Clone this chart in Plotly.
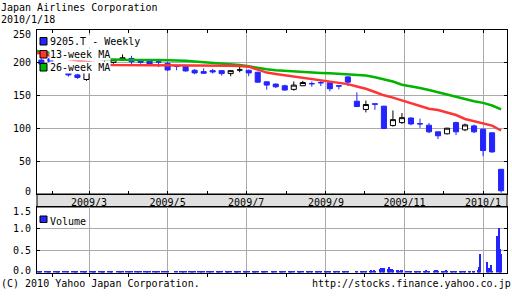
import plotly.graph_objects as go
import pandas as pd

# ---------------- data ----------------
title_text = "Japan Airlines Corporation"
date_text = "2010/1/18"
copyright_text = "(C) 2010 Yahoo Japan Corporation."
url_text = "http://stocks.finance.yahoo.co.jp"
legend_labels = ["9205.T - Weekly", "13-week MA", "26-week MA"]
volume_label = "Volume"

first_week = "2009-01-23"   # weekly candles, plotted at week end (Fri)
opens = [203.5, 205.5, 196, 185, 181, 174, 188, 196, 200, 203.5,
         206, 204, 203, 201, 198.5, 194.5, 194, 188, 186, 187.5,
         187.5, 183, 188.5, 188, 185, 170.5, 167, 164.5, 159, 164.5,
         168, 169.5, 169, 164.5, 178, 141, 128.5, 137, 133.5, 104,
         108.5, 115.5, 107, 104.5, 94.5, 91.5, 108.5, 97.5, 103.5, 98.5,
         93, 37.5]
highs = [205.5, 210.5, 198, 188.5, 183, 190, 199, 203, 205, 212,
         210, 205, 204, 205, 201, 196, 195, 190, 191, 190,
         188, 188, 194, 189, 186, 171, 168, 166, 171, 172,
         171, 173, 170, 164.5, 179, 154.5, 142, 137, 134, 127,
         123, 116.5, 114.5, 108, 94.5, 100.5, 110, 107, 105.5, 99,
         93.5, 38]
lows = [196.5, 198.5, 189, 178.5, 175, 172, 186, 194, 198, 202.5,
        195, 198, 195, 193, 187, 188, 186, 182, 183, 183,
        180, 179, 185, 179, 169, 158.5, 161, 157, 157, 164,
        163, 164, 156, 159, 164, 132, 124, 128, 98.5, 102.5,
        106.5, 104.5, 100.5, 92.5, 83.5, 90.5, 89.5, 95.5, 92.5, 57.5,
        62.5, 2]
closes = [197.5, 201.5, 190.5, 181, 177, 189, 196, 200, 204, 207,
          201, 200, 197, 200.5, 188.5, 194, 187, 184, 183.5, 185.5,
          183, 187.5, 188.5, 184, 170, 165.5, 163, 158, 165.5, 169.5,
          167.5, 169, 160, 164, 170, 133, 136, 136.5, 99.5, 113,
          116, 106.5, 106.5, 94.5, 88.5, 100, 94.5, 105, 94.5, 66,
          64, 5]

ma_first = "2009-01-19"     # MA lines start at the left edge
ma13 = [214.5, 213.5, 210, 207, 205, 203, 201, 198.5, 196.5, 196, 196,
        196, 196, 196, 196, 196, 196, 196, 196, 196, 195.5,
        195.5, 195, 194.5, 193.5, 189, 184.5, 182.5, 180.5, 178, 176.5,
        174, 172.5, 170.5, 169, 167, 163.5, 160, 155, 150, 146.5,
        142.5, 138.5, 134, 129.5, 127.5, 123.5, 120, 114, 111, 108,
        104, 96.5]
ma26 = [217.5, 216.5, 214.5, 211.5, 209.5, 207.5, 206.5, 205.5, 205.5, 204.5, 204,
        203.5, 203.5, 203.5, 203.5, 203.5, 203, 202.5, 201.5, 200.5, 199,
        198, 197, 196, 194, 191.5, 189.5, 188, 187, 186, 185.5,
        185, 184, 183.5, 182.5, 182, 181, 180, 177.5, 174.5, 171,
        166, 164, 161, 158, 154.5, 151, 147.5, 144.5, 141, 138.5,
        134.5, 128.5]

# daily volume (units as on the chart axis)
vol_first, vol_last = "2009-01-19", "2010-01-15"
market_holidays = ["2009-02-11", "2009-03-20", "2009-04-29", "2009-05-04", "2009-05-05",
                   "2009-05-06", "2009-07-20", "2009-09-21", "2009-09-22", "2009-09-23",
                   "2009-10-12", "2009-11-03", "2009-11-23", "2009-12-23", "2009-12-31",
                   "2010-01-01", "2010-01-11"]
vol_jan09 = [0.02, 0.03, 0.02, 0.02, 0.02, 0.03, 0.02, 0.02, 0.03, 0.02]
vol_feb09 = [0.02, 0.02, 0.03, 0.02, 0.02, 0.02, 0.02, 0.02, 0.02, 0.02,
             0.03, 0.02, 0.02, 0.02, 0.02, 0.03, 0.02, 0.02, 0.02]
vol_mar09 = [0.03, 0.02, 0.02, 0.02, 0.02, 0.02, 0.02, 0.03, 0.02, 0.02,
             0.02, 0.02, 0.02, 0.02, 0.02, 0.02, 0.03, 0.02, 0.02, 0.02, 0.02]
vol_apr09 = [0.02, 0.02, 0.02, 0.03, 0.02, 0.02, 0.02, 0.02, 0.02, 0.02,
             0.02, 0.03, 0.02, 0.02, 0.02, 0.02, 0.02, 0.02, 0.02, 0.02, 0.02]
vol_may09 = [0.02, 0.02, 0.02, 0.02, 0.02, 0.03, 0.02, 0.02, 0.02, 0.02,
             0.02, 0.02, 0.02, 0.03, 0.02, 0.02, 0.02, 0.02]
vol_jun09 = [0.02, 0.02, 0.02, 0.03, 0.02, 0.02, 0.02, 0.02, 0.02, 0.02, 0.03,
             0.02, 0.02, 0.02, 0.02, 0.02, 0.02, 0.02, 0.03, 0.02, 0.02, 0.02]
vol_jul09 = [0.02, 0.02, 0.02, 0.02, 0.02, 0.02, 0.03, 0.02, 0.02, 0.02, 0.02,
             0.02, 0.02, 0.02, 0.02, 0.03, 0.02, 0.02, 0.02, 0.02, 0.02, 0.02]
vol_aug09 = [0.02, 0.02, 0.02, 0.02, 0.03, 0.02, 0.02, 0.02, 0.02, 0.02, 0.02,
             0.02, 0.02, 0.03, 0.02, 0.02, 0.02, 0.02, 0.02, 0.02, 0.02]
vol_sep09 = [0.02, 0.02, 0.02, 0.02, 0.02, 0.02, 0.02, 0.02, 0.02, 0.03,
             0.04, 0.04, 0.03, 0.03, 0.04, 0.04, 0.03, 0.02, 0.03]
vol_oct09 = [0.04, 0.04, 0.04, 0.05, 0.04, 0.05, 0.04, 0.08, 0.11, 0.10, 0.11,
             0.09, 0.13, 0.08, 0.07, 0.05, 0.06, 0.05, 0.04, 0.06, 0.05]
vol_nov09 = [0.03, 0.03, 0.02, 0.03, 0.03, 0.02, 0.03, 0.03, 0.02, 0.03,
             0.04, 0.06, 0.03, 0.03, 0.04, 0.06, 0.05, 0.03, 0.03]
vol_dec09 = [0.03, 0.04, 0.05, 0.04, 0.03, 0.04, 0.03, 0.03, 0.02, 0.03, 0.02,
             0.02, 0.03, 0.02, 0.02, 0.03, 0.03, 0.04, 0.05, 0.13, 0.42]
vol_jan10 = [0.23, 0.06, 0.10, 0.18, 0.03, 0.83, 1.03, 0.54, 0.43]

x_range = ["2009-01-19 14:00", "2010-01-19 14:00"]
x_tick_vals = ["2009-03-01", "2009-05-01", "2009-07-01", "2009-09-01", "2009-11-01", "2010-01-01"]
x_tick_text = ["2009/3", "2009/5", "2009/7", "2009/9", "2009/11", "2010/1"]
price_range = [0, 250]
price_ticks = [0, 50, 100, 150, 200, 250]
price_tick_text = ["0", "50", "100", "150", "200", "250"]
vol_range = [0, 1.5]
vol_ticks = [0, 0.5, 1.0, 1.5]
vol_tick_text = ["0.0", "0.5", "1.0", "1.5"]

# ---------------- styling ----------------
W, H = 512, 301
def px(x):
    return x / W
def py(y):
    return 1 - y / H

FONT = "DejaVu Sans Mono"
BLUE = "#2424ff"
RED = "#ff3535"
GREEN = "#00b400"
GRID = "#aaaaaa"
BAND = "#e0e0e0"

weeks = pd.date_range(first_week, periods=len(opens), freq="7D")
ma_dates = [pd.Timestamp(ma_first)] + list(weeks)

volumes = (vol_jan09 + vol_feb09 + vol_mar09 + vol_apr09 + vol_may09 + vol_jun09 + vol_jul09
           + vol_aug09 + vol_sep09 + vol_oct09 + vol_nov09 + vol_dec09 + vol_jan10)
hol = set(market_holidays)
trading_days = [d for d in pd.bdate_range(vol_first, vol_last)
                if d.strftime("%Y-%m-%d") not in hol]
n_vol = min(len(trading_days), len(volumes))

fig = go.Figure()

fig.add_trace(go.Scatter(x=ma_dates, y=ma26, mode="lines", line=dict(color=GREEN, width=2.5),
                         hoverinfo="skip", showlegend=False))
fig.add_trace(go.Scatter(x=ma_dates, y=ma13, mode="lines", line=dict(color=RED, width=2.5),
                         hoverinfo="skip", showlegend=False))

def candle(idx, fill, line):
    style = dict(fillcolor=fill, line=dict(color=line, width=1))
    return go.Candlestick(
        x=[weeks[i] for i in idx], open=[opens[i] for i in idx], high=[highs[i] for i in idx],
        low=[lows[i] for i in idx], close=[closes[i] for i in idx],
        increasing=style, decreasing=style, whiskerwidth=0,
        hoverinfo="skip", showlegend=False, xaxis="x", yaxis="y")

n = len(opens)
fig.add_trace(candle([i for i in range(n) if closes[i] < opens[i]], BLUE, BLUE))
fig.add_trace(candle([i for i in range(n) if closes[i] > opens[i]], "white", "black"))
fig.add_trace(candle([i for i in range(n) if closes[i] == opens[i]], "black", "black"))

fig.add_trace(go.Bar(x=trading_days[:n_vol], y=volumes[:n_vol], width=0.8 * 86400000,
                     marker=dict(color=BLUE, line=dict(width=0)),
                     hoverinfo="skip", showlegend=False, xaxis="x2", yaxis="y2"))

axis_common = dict(showline=True, linecolor="black", linewidth=1, zeroline=False,
                   gridcolor=GRID, gridwidth=1, tickcolor="black",
                   tickfont=dict(family=FONT, size=10, color="black"))

fig.update_layout(
    width=W, height=H, autosize=False, margin=dict(l=0, r=0, t=0, b=0),
    paper_bgcolor="white", plot_bgcolor="white", showlegend=False,
    font=dict(family=FONT, size=10, color="black"),
    boxgap=0.25, boxgroupgap=0.25, bargap=0,
    xaxis=dict(domain=[px(37), px(507)], range=x_range, type="date", anchor="y",
               tickvals=x_tick_vals, ticktext=x_tick_text, ticks="inside", ticklen=3,
               showgrid=True, mirror="allticks", ticklabelstandoff=-1,
               minor=dict(dtick="M1", tick0="2009-01-01", ticks="inside", ticklen=3,
                          tickcolor="black", showgrid=False),
               rangeslider=dict(visible=False), **axis_common),
    yaxis=dict(domain=[py(194), py(29.5)], range=price_range, tickvals=price_ticks,
               ticks="inside", ticklen=3, showgrid=True, mirror="allticks",
               showticklabels=False, anchor="x", **axis_common),
    xaxis2=dict(domain=[px(37), px(507)], matches="x", type="date", anchor="y2",
                tickvals=x_tick_vals, showticklabels=False, ticks="outside", ticklen=3,
                showgrid=True, mirror=True,
                minor=dict(dtick="M1", tick0="2009-01-01", ticks="outside", ticklen=3,
                           tickcolor="black", showgrid=False),
                **axis_common),
    yaxis2=dict(domain=[py(272.5), py(207)], range=vol_range, tickvals=vol_ticks,
                ticks="inside", ticklen=3, showgrid=True, mirror="allticks",
                showticklabels=False, anchor="x2", **axis_common),
)

# date band between the panels
fig.add_shape(type="rect", xref="paper", yref="paper", x0=px(37), x1=px(507),
              y0=py(207), y1=py(194), fillcolor=BAND, line=dict(color="black", width=1),
              layer="below")

def text(s, x, y, xanchor="left", bg=None, yref="paper", yshift=0):
    fig.add_annotation(text=s, x=x, y=y, xref="paper", yref=yref, xanchor=xanchor,
                       yanchor="middle", showarrow=False, borderpad=0, yshift=yshift,
                       bgcolor=bg if bg else "rgba(0,0,0,0)",
                       font=dict(family=FONT, size=10, color="black"))

# y tick labels (end labels nudged inside the panel, as in the original)
for k, (v, s) in enumerate(zip(price_ticks, price_tick_text)):
    shift = 2.3 if k == 0 else (-4.5 if k == len(price_ticks) - 1 else 0)
    text(s, px(31.5), v, xanchor="right", yref="y", yshift=shift)
for k, (v, s) in enumerate(zip(vol_ticks, vol_tick_text)):
    shift = 2.5 if k == 0 else (-4.7 if k == len(vol_ticks) - 1 else 0)
    text(s, px(31.5), v, xanchor="right", yref="y2", yshift=shift)

text(title_text, px(0), py(7.5))
text(date_text, px(0), py(19.5))
text(copyright_text, px(0), py(283))
text(url_text, px(512), py(283), xanchor="right")

legend_colors = [BLUE, RED, GREEN]
legend_rows = [41.5, 54.5, 67.5]
for lab, col, yc in zip(legend_labels, legend_colors, legend_rows):
    fig.add_shape(type="rect", xref="paper", yref="paper", x0=px(40), x1=px(47),
                  y0=py(yc + 3.5), y1=py(yc - 4), fillcolor=col,
                  line=dict(color="black", width=1), layer="above")
    text(lab, px(49), py(yc), bg="white")

fig.add_shape(type="rect", xref="paper", yref="paper", x0=px(40), x1=px(47),
              y0=py(222.5), y1=py(216), fillcolor=BLUE, line=dict(color="black", width=1),
              layer="above")
text(volume_label, px(49), py(221.5), bg="white")

fig.write_html("out.html")
